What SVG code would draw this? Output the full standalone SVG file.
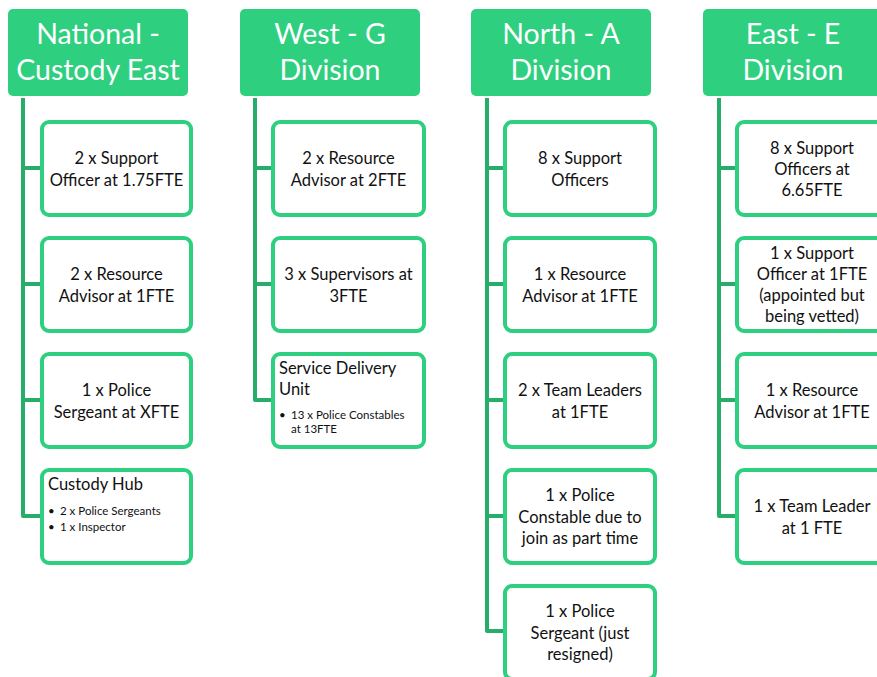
<svg xmlns="http://www.w3.org/2000/svg" width="877" height="677" viewBox="0 0 877 677">
  <style>
    .hdr { fill: #2ecf7f; }
    .hdr-t { fill: #ffffff; font-family: Lato, "Open Sans", sans-serif; font-size: 28.5px; text-anchor: middle; }
    .box { fill: #ffffff; stroke: #2ecf7f; stroke-width: 4; }
    .bt { fill: #111111; font-family: Lato, "Open Sans", sans-serif; font-size: 16.5px; text-anchor: middle; }
    .lt { fill: #111111; font-family: Lato, "Open Sans", sans-serif; font-size: 16.5px; }
    .st { fill: #111111; font-family: Lato, "Open Sans", sans-serif; font-size: 11.5px; }
    .conn { fill: none; stroke: #25ad69; stroke-width: 4; stroke-linejoin: round; }
  </style>
  <rect width="877" height="677" fill="#ffffff"/>

  <!-- connectors -->
  <g id="connectors">
    <path class="conn" d="M23,98 V516 H42 M23,168 H42 M23,284 H42 M23,400 H42"/>
    <path class="conn" d="M255,98 V400 H273 M255,168 H273 M255,284 H273"/>
    <path class="conn" d="M487,98 V631 H505 M487,168 H505 M487,284 H505 M487,400 H505 M487,516 H505"/>
    <path class="conn" d="M719,98 V516 H737 M719,168 H737 M719,284 H737 M719,400 H737"/>
  </g>

  <!-- column 1 -->
  <g id="hdr-national">
    <rect class="hdr" x="8" y="9" width="180" height="87" rx="5"/>
    <text class="hdr-t" x="98" y="44">National -</text>
    <text class="hdr-t" x="98" y="80">Custody East</text>
  </g>
  <g id="n1">
    <rect class="box" x="42" y="122" width="149" height="93" rx="7"/>
    <text class="bt" x="116.5" y="164">2 x Support</text>
    <text class="bt" x="116.5" y="186">Officer at 1.75FTE</text>
  </g>
  <g id="n2">
    <rect class="box" x="42" y="238" width="149" height="93" rx="7"/>
    <text class="bt" x="116.5" y="280">2 x Resource</text>
    <text class="bt" x="116.5" y="302">Advisor at 1FTE</text>
  </g>
  <g id="n3">
    <rect class="box" x="42" y="354" width="149" height="93" rx="7"/>
    <text class="bt" x="116.5" y="396">1 x Police</text>
    <text class="bt" x="116.5" y="418">Sergeant at XFTE</text>
  </g>
  <g id="n4">
    <rect class="box" x="42" y="470" width="149" height="93" rx="7"/>
    <text class="lt" x="48" y="490">Custody Hub</text>
    <text class="st" x="48" y="515">•</text>
    <text class="st" x="60" y="515">2 x Police Sergeants</text>
    <text class="st" x="48" y="531">•</text>
    <text class="st" x="60" y="531">1 x Inspector</text>
  </g>

  <!-- column 2 -->
  <g id="hdr-west">
    <rect class="hdr" x="240" y="9" width="180" height="87" rx="5"/>
    <text class="hdr-t" x="330" y="44">West - G</text>
    <text class="hdr-t" x="330" y="80">Division</text>
  </g>
  <g id="w1">
    <rect class="box" x="273" y="122" width="151" height="93" rx="7"/>
    <text class="bt" x="348.5" y="164">2 x Resource</text>
    <text class="bt" x="348.5" y="186">Advisor at 2FTE</text>
  </g>
  <g id="w2">
    <rect class="box" x="273" y="238" width="151" height="93" rx="7"/>
    <text class="bt" x="348.5" y="280">3 x Supervisors at</text>
    <text class="bt" x="348.5" y="302">3FTE</text>
  </g>
  <g id="w3">
    <rect class="box" x="273" y="354" width="151" height="93" rx="7"/>
    <text class="lt" x="279" y="374">Service Delivery</text>
    <text class="lt" x="279" y="395">Unit</text>
    <text class="st" x="279" y="419">•</text>
    <text class="st" x="291" y="419">13 x Police Constables</text>
    <text class="st" x="291" y="433">at 13FTE</text>
  </g>

  <!-- column 3 -->
  <g id="hdr-north">
    <rect class="hdr" x="471" y="9" width="180" height="87" rx="5"/>
    <text class="hdr-t" x="561" y="44">North - A</text>
    <text class="hdr-t" x="561" y="80">Division</text>
  </g>
  <g id="a1">
    <rect class="box" x="505" y="122" width="150" height="93" rx="7"/>
    <text class="bt" x="580" y="164">8 x Support</text>
    <text class="bt" x="580" y="186">Officers</text>
  </g>
  <g id="a2">
    <rect class="box" x="505" y="238" width="150" height="93" rx="7"/>
    <text class="bt" x="580" y="280">1 x Resource</text>
    <text class="bt" x="580" y="302">Advisor at 1FTE</text>
  </g>
  <g id="a3">
    <rect class="box" x="505" y="354" width="150" height="93" rx="7"/>
    <text class="bt" x="580" y="396">2 x Team Leaders</text>
    <text class="bt" x="580" y="418">at 1FTE</text>
  </g>
  <g id="a4">
    <rect class="box" x="505" y="470" width="150" height="93" rx="7"/>
    <text class="bt" x="580" y="501">1 x Police</text>
    <text class="bt" x="580" y="523">Constable due to</text>
    <text class="bt" x="580" y="544">join as part time</text>
  </g>
  <g id="a5">
    <rect class="box" x="505" y="586" width="150" height="93" rx="7"/>
    <text class="bt" x="580" y="617">1 x Police</text>
    <text class="bt" x="580" y="639">Sergeant (just</text>
    <text class="bt" x="580" y="660">resigned)</text>
  </g>

  <!-- column 4 -->
  <g id="hdr-east">
    <rect class="hdr" x="703" y="9" width="180" height="87" rx="5"/>
    <text class="hdr-t" x="793" y="44">East - E</text>
    <text class="hdr-t" x="793" y="80">Division</text>
  </g>
  <g id="e1">
    <rect class="box" x="737" y="122" width="150" height="93" rx="7"/>
    <text class="bt" x="812" y="154">8 x Support</text>
    <text class="bt" x="812" y="175">Officers at</text>
    <text class="bt" x="812" y="196">6.65FTE</text>
  </g>
  <g id="e2">
    <rect class="box" x="737" y="238" width="150" height="93" rx="7"/>
    <text class="bt" x="812" y="259">1 x Support</text>
    <text class="bt" x="812" y="280">Officer at 1FTE</text>
    <text class="bt" x="812" y="301">(appointed but</text>
    <text class="bt" x="812" y="322">being vetted)</text>
  </g>
  <g id="e3">
    <rect class="box" x="737" y="354" width="150" height="93" rx="7"/>
    <text class="bt" x="812" y="396">1 x Resource</text>
    <text class="bt" x="812" y="418">Advisor at 1FTE</text>
  </g>
  <g id="e4">
    <rect class="box" x="737" y="470" width="150" height="93" rx="7"/>
    <text class="bt" x="812" y="512">1 x Team Leader</text>
    <text class="bt" x="812" y="534">at 1 FTE</text>
  </g>
</svg>
